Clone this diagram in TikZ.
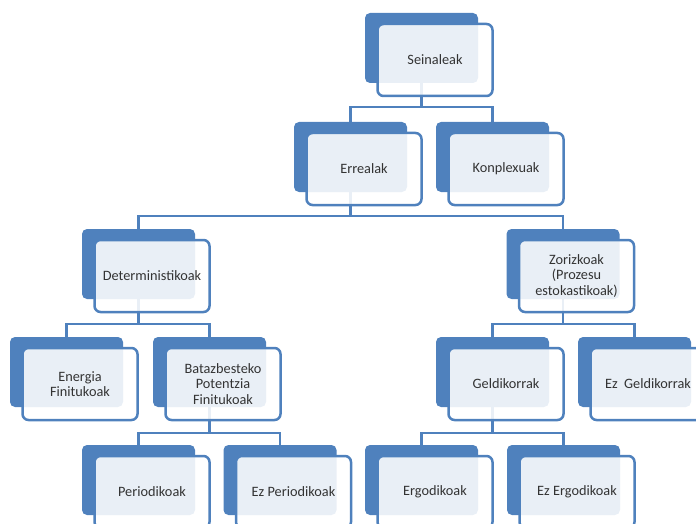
\documentclass[tikz,border=0pt]{standalone}
\usepackage{fontspec}
\setmainfont{Carlito}
\usepackage{xcolor}
\usetikzlibrary{backgrounds}
\definecolor{accblue}{HTML}{4F81BD}
\tikzset{
  frontcard/.style={draw=accblue, line width=2.5pt, fill=white, fill opacity=0.88, text opacity=1,
    rounded corners=6pt, minimum width=115pt, minimum height=72pt, inner sep=0pt,
    align=center, text=black!80, font=\fontsize{14.3}{15.2}\selectfont},
  conn/.style={draw=accblue, line width=2.6pt}
}
\newcommand{\card}[4]{%
  \fill[accblue, rounded corners=5pt] (#2-56.5,#3) rectangle ++(113,70);
  \coordinate (#1-up) at (#2,#3);
  \coordinate (#1-dn) at (#2,#3+70);
  \node[frontcard] (#1) at (#2+13.5,#3+47) {#4};
}

\begin{document}
\begin{tikzpicture}[x=1pt,y=-1pt]
\useasboundingbox (0,0) rectangle (696,524);
\clip (0,0) rectangle (696,524);

\card{sein}{421.5}{13}{Seinaleak}
\card{err}{350.5}{122}{Errealak}
\card{konp}{492.5}{122}{Konplexuak}
\card{det}{138.5}{229}{Deterministikoak}
\card{zor}{563}{229}{Zorizkoak\\(Prozesu\\estokastikoak)}
\card{ener}{66.5}{337}{Energia\\Finitukoak}
\card{bataz}{209.5}{337}{Batazbesteko\\Potentzia\\Finitukoak}
\card{geld}{492.5}{337}{Geldikorrak}
\card{ezgeld}{634.5}{337}{Ez\ \ Geldikorrak}
\card{peri}{138.5}{445}{Periodikoak}
\card{ezperi}{280}{445}{Ez Periodikoak}
\card{ergo}{421.5}{445}{Ergodikoak}
\card{ezergo}{563.5}{445}{Ez Ergodikoak}

\begin{scope}[on background layer]
\draw[conn] (sein-dn) -- ++(0,24) -| (err-up);
\draw[conn] (sein-dn) -- ++(0,24) -| (konp-up);
\draw[conn] (err-dn) -- ++(0,24) -| (det-up);
\draw[conn] (err-dn) -- ++(0,24) -| (zor-up);
\draw[conn] (det-dn) -- ++(0,25) -| (ener-up);
\draw[conn] (det-dn) -- ++(0,25) -| (bataz-up);
\draw[conn] (zor-dn) -- ++(0,25) -| (geld-up);
\draw[conn] (zor-dn) -- ++(0,25) -| (ezgeld-up);
\draw[conn] (bataz-dn) -- ++(0,26) -| (peri-up);
\draw[conn] (bataz-dn) -- ++(0,26) -| (ezperi-up);
\draw[conn] (geld-dn) -- ++(0,26) -| (ergo-up);
\draw[conn] (geld-dn) -- ++(0,26) -| (ezergo-up);
\end{scope}
\end{tikzpicture}
\end{document}
